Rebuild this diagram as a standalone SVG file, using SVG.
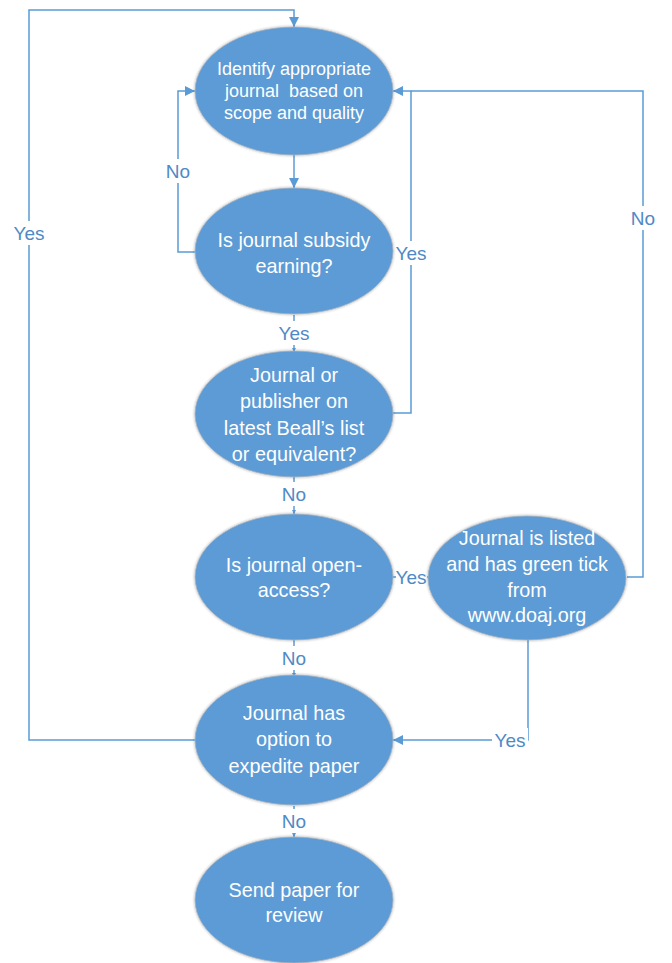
<svg xmlns="http://www.w3.org/2000/svg" width="672" height="963" viewBox="0 0 672 963">
<defs>
<marker id="arr" viewBox="0 0 10 10" refX="10" refY="5" markerWidth="10" markerHeight="10" markerUnits="userSpaceOnUse" orient="auto">
<path d="M0,0 L10,5 L0,10 z" fill="#5B9BD5"/>
</marker>
<marker id="arrs" viewBox="0 0 10 10" refX="10" refY="5" markerWidth="4" markerHeight="4" markerUnits="userSpaceOnUse" orient="auto">
<path d="M0,0 L10,5 L0,10 z" fill="#5B9BD5"/>
</marker>
<filter id="glow" x="-10%" y="-10%" width="120%" height="120%">
<feGaussianBlur in="SourceAlpha" stdDeviation="1.5"/>
<feComponentTransfer><feFuncA type="linear" slope="0.35"/></feComponentTransfer>
<feMerge><feMergeNode/><feMergeNode in="SourceGraphic"/></feMerge>
</filter>
</defs>
<style>
.node ellipse{fill:#5B9BD5;stroke:#A9B4BE;stroke-width:0.8;filter:url(#glow)}
.node text{fill:#FFFFFF;font-family:"Liberation Sans",Arial,sans-serif;font-size:19.8px;text-anchor:middle;white-space:pre}
.node text.sm{font-size:18px}
.conn path{fill:none;stroke:#5B9BD5;stroke-width:1.5}
.lbl rect{fill:#FFFFFF}
.lbl text{fill:#4F89C6;font-family:"Liberation Sans",Arial,sans-serif;font-size:19px;text-anchor:middle}
</style>
<rect width="672" height="963" fill="#FFFFFF"/>
<g id="connectors" class="conn">
<path d="M195,740 H29 V10 H294 V27" marker-end="url(#arr)"/>
<path d="M195,252 H178 V91 H195" marker-end="url(#arr)"/>
<path d="M294,155 V188" marker-end="url(#arr)"/>
<path d="M294,315 V352" marker-end="url(#arrs)"/>
<path d="M393,413 H411 V91 H393" marker-end="url(#arr)"/>
<path d="M294,477 V514" marker-end="url(#arrs)"/>
<path d="M393,577 H428" marker-end="url(#arrs)"/>
<path d="M627,577 H643 V91 H411"/>
<path d="M528,640 V740 H393" marker-end="url(#arr)"/>
<path d="M294,640 V677" marker-end="url(#arrs)"/>
<path d="M294,806 V837" marker-end="url(#arrs)"/>
</g>
<g id="labels" class="lbl">
<rect x="11" y="221" width="36" height="24"/><text x="29" y="240">Yes</text>
<rect x="163" y="159" width="30" height="24"/><text x="178" y="178">No</text>
<rect x="276" y="321" width="36" height="24"/><text x="294" y="340">Yes</text>
<rect x="393" y="241" width="36" height="24"/><text x="411" y="260">Yes</text>
<rect x="279" y="482" width="30" height="24"/><text x="294" y="501">No</text>
<rect x="628" y="206" width="30" height="24"/><text x="643" y="225">No</text>
<rect x="396" y="565" width="31" height="24"/><text x="411" y="584">Yes</text>
<rect x="279" y="646" width="30" height="24"/><text x="294" y="665">No</text>
<rect x="492" y="728" width="36" height="24"/><text x="510" y="747">Yes</text>
<rect x="279" y="809" width="30" height="24"/><text x="294" y="828">No</text>
</g>
<g id="node1" class="node">
<ellipse cx="294" cy="91" rx="99" ry="64"/>
<text class="sm" x="294" y="75">Identify appropriate</text>
<text class="sm" x="294" y="97">journal  based on</text>
<text class="sm" x="294" y="119">scope and quality</text>
</g>
<g id="node2" class="node">
<ellipse cx="294" cy="251" rx="99" ry="63"/>
<text x="294" y="247">Is journal subsidy</text>
<text x="294" y="273">earning?</text>
</g>
<g id="node3" class="node">
<ellipse cx="294" cy="414" rx="99" ry="63"/>
<text x="294" y="382">Journal or</text>
<text x="294" y="408">publisher on</text>
<text x="294" y="435">latest Beall’s list</text>
<text x="294" y="461">or equivalent?</text>
</g>
<g id="node4" class="node">
<ellipse cx="294" cy="577" rx="99" ry="63"/>
<text x="294" y="572">Is journal open-</text>
<text x="294" y="597">access?</text>
</g>
<g id="node5" class="node">
<ellipse cx="527" cy="578" rx="99" ry="62"/>
<text x="527" y="545">Journal is listed</text>
<text x="527" y="571">and has green tick</text>
<text x="527" y="597">from</text>
<text x="527" y="622">www.doaj.org</text>
</g>
<g id="node6" class="node">
<ellipse cx="294" cy="740" rx="99" ry="65"/>
<text x="294" y="720">Journal has</text>
<text x="294" y="746">option to</text>
<text x="294" y="773">expedite paper</text>
</g>
<g id="node7" class="node">
<ellipse cx="294" cy="900" rx="99" ry="63"/>
<text x="294" y="897">Send paper for</text>
<text x="294" y="922">review</text>
</g>
</svg>
